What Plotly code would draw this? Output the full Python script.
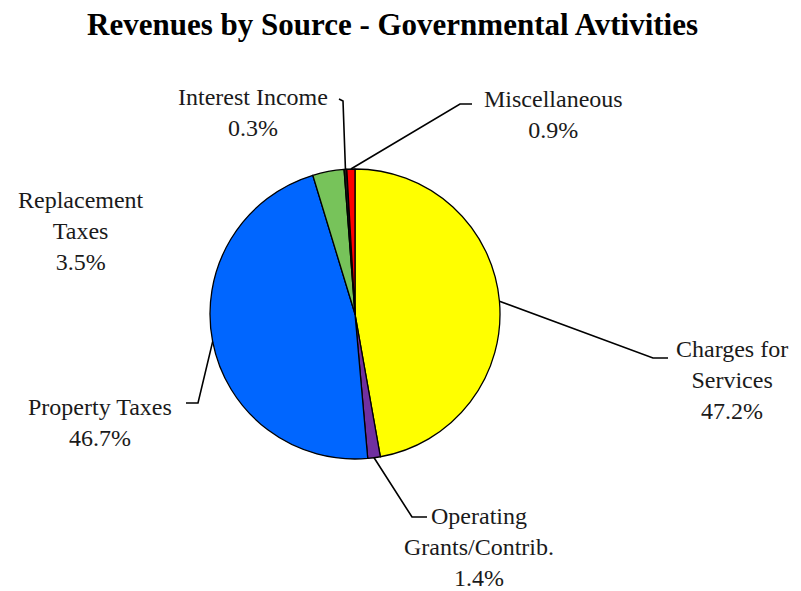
import math
import plotly.graph_objects as go

# ---- data ----
categories = ["Charges for Services", "Operating Grants/Contrib.", "Property Taxes",
              "Replacement Taxes", "Interest Income", "Miscellaneous"]
values = [47.2, 1.4, 46.7, 3.5, 0.3, 0.9]
label_texts = ["Charges for<br>Services<br>47.2%",
               "Operating<br>Grants/Contrib.<br>1.4%",
               "Property Taxes<br>46.7%",
               "Replacement<br>Taxes<br>3.5%",
               "Interest Income<br>0.3%",
               "Miscellaneous<br>0.9%"]
colors = ["#FFFF00", "#7030A0", "#0066FF", "#77C35A", "#1A1A1A", "#FF0000"]

# ---- layout geometry (screen pixels; page body adds an 8px offset) ----
OFF = 8
W, H = 801 - OFF, 591 - OFF
cx, cy, r = 355, 314, 145
# label block centers
label_pos = [(732, 380), (479, 547), (100, 422), (81, 231), (253, 112), (553, 114)]
# leader line elbow and end points (None = no leader)
leaders = [((653, 358), (668, 358)),
           ((412, 517), (427, 517)),
           ((198, 403), (186, 403)),
           None,
           ((343, 101), (339, 99)),
           ((460, 104), (472, 104))]

def px(x):
    return (x - OFF) / W

def py(y):
    return 1 - (y - OFF) / H

fig = go.Figure(go.Pie(
    labels=categories, values=values, sort=False, direction="clockwise", rotation=0,
    marker=dict(colors=colors, line=dict(color="black", width=1.3)),
    textinfo="none", hoverinfo="label+percent", showlegend=False,
    domain=dict(x=[px(cx - r), px(cx + r)], y=[py(cy + r), py(cy - r)]),
))

total = sum(values)
cum = 0.0
shapes = []
for v, ld in zip(values, leaders):
    theta = 2 * math.pi * (cum + v / 2) / total
    cum += v
    if ld is None:
        continue
    sx = cx + r * math.sin(theta)
    sy = cy - r * math.cos(theta)
    (ex, ey), (tx, ty) = ld
    path = f"M {px(sx)},{py(sy)} L {px(ex)},{py(ey)} L {px(tx)},{py(ty)}"
    shapes.append(dict(type="path", xref="paper", yref="paper", path=path,
                       line=dict(color="black", width=1.6)))

annotations = []
for txt, (lx, ly) in zip(label_texts, label_pos):
    annotations.append(dict(text=txt, x=px(lx), y=py(ly), xref="paper", yref="paper",
                            showarrow=False, align="center", xanchor="center", yanchor="middle",
                            font=dict(family="Liberation Serif", size=24, color="#1a1a1a")))
annotations.append(dict(text="<b>Revenues by Source - Governmental Avtivities</b>",
                        x=px(392), y=py(25), xref="paper", yref="paper", showarrow=False,
                        xanchor="center", yanchor="middle",
                        font=dict(family="Liberation Serif", size=31, color="black")))

fig.update_layout(width=W, height=H, margin=dict(l=0, r=0, t=0, b=0),
                  paper_bgcolor="white", plot_bgcolor="white",
                  shapes=shapes, annotations=annotations)

fig.write_html("out.html")
